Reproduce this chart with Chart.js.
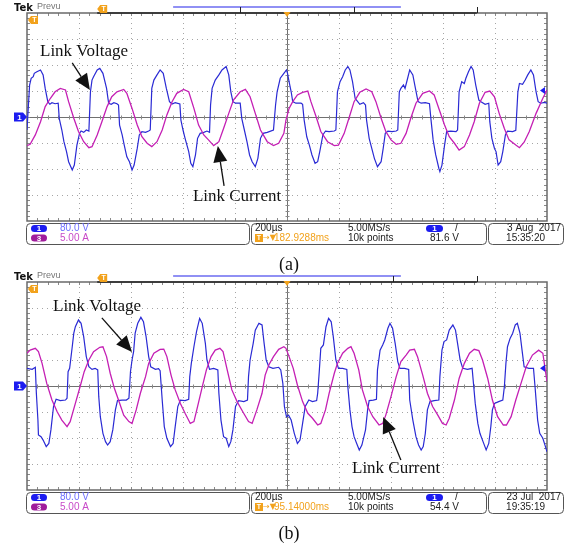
<!DOCTYPE html>
<html>
<head>
<meta charset="utf-8">
<script src="https://cdn.jsdelivr.net/npm/chart.js@4.4.1/dist/chart.umd.min.js"></script>
<style>
    html, body { margin: 0; padding: 0; background: #fff; }
    #wrap { position: relative; width: 566px; height: 546px; overflow: hidden; }
    canvas { position: absolute; left: 0; }
    #scopeA { top: 0; }
    #scopeB { top: 269px; }
</style>
</head>
<body>
<div id="wrap">
    <canvas id="scopeA" width="566" height="280"></canvas>
    <canvas id="scopeB" width="566" height="277"></canvas>
</div>
<script>
// traces, [time (div), level (div)] ; 200us/div, ch1 80 V/div, ch3 5 A/div
const voltA = [
    [0,-0.50],[0.05,1.23],[0.08,1.49],[0.12,1.55],[0.14,1.68],[0.19,1.74],[0.26,1.81],[0.31,1.62],[0.35,1.10],[0.40,0.59],
    [0.44,0.49],[0.48,0.55],[0.54,0.51],[0.60,0.53],[0.62,-0.05],[0.64,-0.24],[0.67,-0.50],[0.71,-0.95],[0.76,-1.33],[0.80,-1.72],
    [0.87,-2.04],[0.91,-1.85],[0.96,-1.08],[1.01,-0.63],[1.04,-0.54],[1.09,-0.59],[1.14,-0.50],[1.19,-0.54],[1.22,0.97],[1.25,1.42],
    [1.28,1.55],[1.35,1.81],[1.40,1.87],[1.46,1.68],[1.53,1.10],[1.57,0.53],[1.62,0.49],[1.67,0.55],[1.73,0.51],[1.76,0.46],
    [1.78,-0.31],[1.83,-0.69],[1.87,-1.08],[1.92,-1.53],[1.97,-1.72],[2.02,-2.04],[2.06,-1.85],[2.12,-1.21],[2.16,-0.69],[2.21,-0.56],
    [2.28,-0.59],[2.34,-0.54],[2.37,-0.50],[2.40,1.10],[2.44,1.42],[2.50,1.62],[2.56,1.81],[2.62,1.68],[2.68,1.10],[2.74,0.59],
    [2.79,0.50],[2.85,0.55],[2.94,0.50],[2.96,-0.12],[3.00,-0.50],[3.04,-0.82],[3.11,-1.33],[3.15,-1.78],[3.19,-1.91],[3.24,-1.46],
    [3.28,-0.82],[3.33,-0.63],[3.40,-0.59],[3.46,-0.54],[3.51,-0.59],[3.53,0.46],[3.56,1.10],[3.62,1.42],[3.69,1.62],[3.75,1.81],
    [3.83,1.94],[3.88,1.62],[3.92,0.97],[3.96,0.59],[4.01,0.53],[4.10,0.53],[4.13,-0.05],[4.18,-0.50],[4.23,-0.95],[4.28,-1.46],
    [4.33,-1.72],[4.39,-1.91],[4.44,-1.59],[4.49,-0.82],[4.54,-0.63],[4.62,-0.59],[4.74,-0.50],[4.78,0.46],[4.81,0.97],[4.87,1.49],
    [4.94,1.68],[4.99,1.81],[5.01,1.68],[5.04,1.36],[5.08,0.97],[5.11,0.59],[5.17,0.53],[5.27,0.53],[5.30,0.49],[5.33,-0.12],
    [5.38,-0.76],[5.43,-1.08],[5.48,-1.46],[5.54,-1.78],[5.59,-1.72],[5.63,-1.33],[5.69,-0.69],[5.74,-0.54],[5.81,-0.56],[5.91,-0.54],
    [5.94,-0.50],[5.97,0.97],[6.02,1.36],[6.07,1.55],[6.12,1.81],[6.17,1.94],[6.21,1.81],[6.26,1.36],[6.31,0.72],[6.36,0.59],
    [6.40,0.49],[6.47,0.55],[6.51,0.46],[6.53,-0.12],[6.58,-0.82],[6.63,-1.21],[6.68,-1.59],[6.74,-1.91],[6.81,-1.72],[6.85,-1.21],
    [6.89,-0.63],[6.94,-0.54],[7.02,-0.56],[7.10,-0.54],[7.13,-0.50],[7.16,0.97],[7.19,1.10],[7.24,1.23],[7.27,1.10],[7.32,1.49],
    [7.36,1.81],[7.42,1.62],[7.47,1.10],[7.52,0.59],[7.58,0.53],[7.66,0.55],[7.74,0.51],[7.77,-0.12],[7.81,-0.88],[7.86,-1.46],
    [7.92,-1.97],[7.94,-2.10],[7.98,-1.85],[8.03,-1.08],[8.07,-0.56],[8.15,-0.54],[8.25,-0.56],[8.28,-0.50],[8.31,0.97],[8.36,1.36],
    [8.41,1.29],[8.44,1.49],[8.49,1.74],[8.54,1.94],[8.58,1.81],[8.63,1.23],[8.69,0.65],[8.73,0.59],[8.81,0.49],[8.88,0.53],
    [8.90,-0.18],[8.94,-0.82],[8.99,-1.21],[9.02,-1.33],[9.06,-1.85],[9.11,-1.72],[9.15,-1.33],[9.20,-0.69],[9.24,-0.54],[9.34,-0.56],
    [9.40,-0.51],[9.44,0.97],[9.47,1.29],[9.53,1.26],[9.58,1.42],[9.63,1.62],[9.69,1.81],[9.74,1.62],[9.79,0.97],[9.83,0.59],
    [9.88,0.53],[9.95,0.56],[10.0,0.53]
];
const currA = [
    [0,-1.10],[0.06,-1.05],[0.16,-0.69],[0.26,-0.18],[0.35,0.40],[0.45,0.72],[0.54,0.97],[0.64,1.10],[0.74,1.04],[0.80,0.59],
    [0.90,-0.05],[0.99,-0.56],[1.09,-0.95],[1.19,-1.18],[1.25,-1.14],[1.35,-0.69],[1.44,-0.18],[1.54,0.40],[1.63,0.78],[1.73,0.97],
    [1.86,1.06],[1.92,0.91],[2.02,0.33],[2.12,-0.31],[2.21,-0.76],[2.31,-1.01],[2.40,-1.14],[2.50,-0.95],[2.60,-0.50],[2.69,0.08],
    [2.79,0.59],[2.88,0.91],[3.01,1.06],[3.11,0.97],[3.21,0.33],[3.30,-0.31],[3.40,-0.69],[3.49,-0.88],[3.59,-1.10],[3.69,-0.95],
    [3.78,-0.44],[3.88,0.14],[3.97,0.65],[4.10,0.97],[4.20,1.06],[4.29,0.78],[4.39,0.14],[4.49,-0.50],[4.62,-0.95],[4.74,-1.10],
    [4.84,-1.01],[4.94,-0.63],[4.98,-0.12],[5.04,0.33],[5.11,0.59],[5.20,0.85],[5.30,0.95],[5.40,1.00],[5.46,0.59],[5.56,0.01],
    [5.65,-0.56],[5.78,-0.95],[5.91,-1.10],[5.99,-1.08],[6.10,-0.63],[6.20,0.01],[6.29,0.59],[6.40,0.95],[6.52,1.08],[6.63,0.97],
    [6.71,0.59],[6.81,-0.05],[6.90,-0.56],[7.00,-0.88],[7.10,-1.05],[7.19,-1.01],[7.29,-0.63],[7.38,-0.05],[7.48,0.53],[7.61,0.91],
    [7.74,1.00],[7.83,0.85],[7.93,0.27],[8.03,-0.31],[8.12,-0.76],[8.22,-1.01],[8.31,-1.27],[8.41,-1.14],[8.51,-0.69],[8.60,-0.18],
    [8.70,0.53],[8.81,0.95],[8.90,1.00],[8.99,0.78],[9.08,0.14],[9.18,-0.44],[9.27,-0.88],[9.40,-1.08],[9.47,-1.18],[9.56,-0.97],
    [9.66,-0.56],[9.79,0.14],[9.92,0.72],[10.0,1.04]
];
const voltB = [
    [0,0.68],[0.10,0.64],[0.16,0.72],[0.18,-0.28],[0.21,-1.31],[0.22,-1.88],[0.27,-1.95],[0.31,-2.08],[0.37,-2.33],[0.42,-2.21],
    [0.46,-1.69],[0.51,-0.79],[0.56,-0.51],[0.64,-0.56],[0.74,-0.54],[0.77,-0.47],[0.79,0.55],[0.82,0.68],[0.87,1.51],[0.90,2.03],
    [0.93,2.28],[0.99,2.54],[1.04,2.41],[1.09,1.90],[1.14,1.13],[1.19,0.74],[1.25,0.64],[1.31,0.68],[1.36,0.62],[1.38,-0.41],
    [1.41,-1.18],[1.46,-1.82],[1.51,-2.14],[1.55,-2.27],[1.60,-2.14],[1.65,-1.69],[1.70,-0.92],[1.74,-0.56],[1.83,-0.54],[1.91,-0.54],
    [1.96,-0.47],[1.99,0.55],[2.02,1.00],[2.05,1.32],[2.08,2.03],[2.13,2.41],[2.19,2.64],[2.24,2.47],[2.29,1.90],[2.34,1.13],
    [2.38,0.74],[2.47,0.64],[2.53,0.67],[2.56,0.59],[2.60,-0.54],[2.64,-1.56],[2.69,-2.01],[2.76,-2.33],[2.81,-2.21],[2.85,-1.56],
    [2.90,-0.79],[2.95,-0.54],[3.04,-0.56],[3.11,-0.51],[3.13,0.36],[3.16,0.87],[3.21,1.51],[3.26,2.09],[3.32,2.60],[3.37,2.41],
    [3.43,1.64],[3.46,1.00],[3.51,0.64],[3.59,0.68],[3.67,0.62],[3.69,-0.28],[3.73,-1.31],[3.78,-1.95],[3.83,-2.01],[3.88,-2.33],
    [3.92,-2.14],[3.96,-1.69],[4.01,-0.79],[4.07,-0.56],[4.17,-0.60],[4.24,-0.54],[4.26,0.36],[4.29,1.00],[4.35,1.64],[4.39,2.15],
    [4.46,2.41],[4.52,2.35],[4.56,1.64],[4.60,1.00],[4.65,0.74],[4.73,0.68],[4.84,0.72],[4.88,0.62],[4.92,0.10],[4.95,-0.79],
    [4.99,-1.18],[5.03,-1.12],[5.08,-1.31],[5.14,-1.82],[5.20,-2.21],[5.25,-2.08],[5.30,-1.44],[5.35,-0.79],[5.42,-0.54],[5.49,-0.60],
    [5.57,-0.56],[5.59,-0.28],[5.62,0.55],[5.65,1.45],[5.70,1.58],[5.75,2.28],[5.80,2.60],[5.85,2.47],[5.89,1.90],[5.94,1.00],
    [5.99,0.68],[6.07,0.68],[6.15,0.64],[6.17,-0.03],[6.21,-0.92],[6.25,-1.56],[6.29,-1.95],[6.34,-2.21],[6.39,-2.46],[6.44,-2.27],
    [6.51,-1.69],[6.55,-0.92],[6.58,-0.56],[6.66,-0.54],[6.72,-0.51],[6.74,0.62],[6.79,1.38],[6.84,1.58],[6.88,1.77],[6.94,2.22],
    [6.98,2.41],[7.03,2.22],[7.08,1.64],[7.13,0.94],[7.17,0.68],[7.26,0.68],[7.34,0.64],[7.36,-0.54],[7.42,-1.31],[7.48,-1.95],
    [7.53,-2.27],[7.58,-2.46],[7.62,-2.33],[7.66,-1.82],[7.70,-0.92],[7.75,-0.60],[7.83,-0.56],[7.92,-0.54],[7.94,0.36],[7.98,1.38],
    [8.02,1.71],[8.07,1.77],[8.12,2.15],[8.19,2.35],[8.24,2.15],[8.28,1.64],[8.33,1.00],[8.38,0.68],[8.47,0.64],[8.56,0.68],
    [8.58,0.23],[8.62,-0.67],[8.67,-1.44],[8.71,-1.82],[8.77,-2.14],[8.83,-2.46],[8.88,-2.21],[8.92,-1.56],[8.95,-0.92],[8.99,-0.67],
    [9.07,-0.60],[9.15,-0.54],[9.18,-0.03],[9.21,0.87],[9.24,1.51],[9.29,1.83],[9.34,2.03],[9.39,2.35],[9.43,2.41],[9.48,2.03],
    [9.52,1.38],[9.56,0.74],[9.65,0.68],[9.74,0.68],[9.77,-0.03],[9.82,-1.31],[9.86,-1.82],[9.92,-2.01],[9.97,-2.33],[10.0,-2.53]
];
const currB = [
    [0,1.26],[0.06,1.38],[0.16,1.45],[0.22,1.32],[0.29,0.87],[0.38,0.10],[0.48,-0.54],[0.58,-0.99],[0.67,-1.31],[0.77,-1.56],
    [0.83,-1.37],[0.93,-0.67],[1.03,0.04],[1.10,0.55],[1.19,1.00],[1.28,1.32],[1.40,1.49],[1.46,1.51],[1.53,1.13],[1.60,0.49],
    [1.68,-0.09],[1.76,-0.54],[1.86,-1.12],[1.96,-1.37],[2.02,-1.44],[2.10,-0.92],[2.18,-0.28],[2.28,0.36],[2.34,0.87],[2.44,1.26],
    [2.56,1.41],[2.63,1.42],[2.69,1.13],[2.77,0.42],[2.85,-0.15],[2.95,-0.67],[3.04,-1.05],[3.14,-1.44],[3.21,-1.37],[3.28,-0.79],
    [3.37,-0.03],[3.45,0.62],[3.54,1.13],[3.62,1.38],[3.71,1.45],[3.77,1.32],[3.85,0.62],[3.94,-0.15],[4.04,-0.60],[4.15,-0.99],
    [4.26,-1.37],[4.33,-1.44],[4.42,-0.92],[4.52,-0.28],[4.58,0.42],[4.65,0.81],[4.74,1.13],[4.84,1.41],[4.94,1.51],[4.98,1.45],
    [5.04,1.13],[5.12,0.68],[5.20,0.04],[5.30,-0.60],[5.40,-1.05],[5.49,-1.24],[5.59,-1.50],[5.65,-1.44],[5.74,-0.92],[5.81,-0.28],
    [5.91,0.49],[5.97,0.87],[6.07,1.26],[6.17,1.45],[6.23,1.51],[6.29,1.26],[6.38,0.62],[6.45,-0.15],[6.55,-0.79],[6.65,-1.18],
    [6.77,-1.50],[6.84,-1.44],[6.90,-1.12],[7.00,-0.41],[7.10,0.36],[7.19,0.94],[7.29,1.19],[7.36,1.38],[7.45,1.41],[7.51,1.13],
    [7.61,0.42],[7.70,-0.28],[7.80,-0.79],[7.90,-1.12],[7.99,-1.44],[8.06,-1.50],[8.12,-1.24],[8.22,-0.54],[8.31,0.29],[8.41,0.87],
    [8.51,1.26],[8.60,1.41],[8.69,1.36],[8.76,1.00],[8.86,0.29],[8.95,-0.54],[9.05,-1.18],[9.16,-1.50],[9.22,-1.50],[9.31,-1.18],
    [9.40,-0.54],[9.50,0.10],[9.60,0.74],[9.72,1.19],[9.84,1.38],[9.92,1.26],[10.0,0.17]
];

// on-screen readouts: ch1 scale, ch3 scale, time/div, trigger pos, sample rate, record, trig level, date, time
const readoutA = ["80.0 V", "5.00 A", "200µs", "182.9288ms", "5.00MS/s", "10k points", "81.6 V", "3 Aug  2017", "15:35:20"];
const readoutB = ["80.0 V", "5.00 A", "200µs", "95.14000ms", "5.00MS/s", "10k points", "54.4 V", "23 Jul  2017", "19:35:19"];
const trigLevelV = [81.6, 54.4];
const voltsPerDiv = 80;
const panelNames = ["(a)", "(b)"];
const noteNames = ["Link Voltage", "Link Current"];

const BLUE = "#2a2ad4";
const MAGENTA = "#c41fb4";
const ORANGE = "#f2a21c";

function line(ctx, x1, y1, x2, y2) {
    ctx.beginPath();
    ctx.moveTo(x1, y1);
    ctx.lineTo(x2, y2);
    ctx.stroke();
}

function roundBox(ctx, x, y, w, h, r) {
    ctx.beginPath();
    ctx.moveTo(x + r, y);
    ctx.arcTo(x + w, y, x + w, y + h, r);
    ctx.arcTo(x + w, y + h, x, y + h, r);
    ctx.arcTo(x, y + h, x, y, r);
    ctx.arcTo(x, y, x + w, y, r);
    ctx.closePath();
    ctx.stroke();
}

function pill(ctx, x, y, w, h, fill, label) {
    const r = h / 2;
    ctx.fillStyle = fill;
    ctx.beginPath();
    ctx.arc(x + r, y, r, Math.PI / 2, Math.PI * 1.5);
    ctx.arc(x + w - r, y, r, -Math.PI / 2, Math.PI / 2);
    ctx.closePath();
    ctx.fill();
    ctx.fillStyle = "#fff";
    ctx.font = "bold 8px 'Liberation Sans'";
    ctx.textAlign = "center";
    ctx.fillText(label, x + w / 2, y + 0.5);
}

function tMarker(ctx, x, y) {
    ctx.fillStyle = ORANGE;
    ctx.beginPath();
    ctx.moveTo(x, y);
    ctx.lineTo(x + 3, y - 4);
    ctx.lineTo(x + 10, y - 4);
    ctx.lineTo(x + 10, y + 4);
    ctx.lineTo(x + 3, y + 4);
    ctx.closePath();
    ctx.fill();
    ctx.fillStyle = "#fff";
    ctx.font = "bold 7px 'Liberation Sans'";
    ctx.textAlign = "center";
    ctx.fillText("T", x + 6.5, y + 0.5);
}

function arrow(ctx, x1, y1, x2, y2) {
    const ang = Math.atan2(y2 - y1, x2 - x1);
    const L = 16, W = 7;
    const bx = x2 - L * Math.cos(ang), by = y2 - L * Math.sin(ang);
    ctx.strokeStyle = "#111";
    ctx.lineWidth = 1.3;
    line(ctx, x1, y1, bx, by);
    ctx.fillStyle = "#111";
    ctx.beginPath();
    ctx.moveTo(x2, y2);
    ctx.lineTo(bx + W * Math.sin(ang), by - W * Math.cos(ang));
    ctx.lineTo(bx - W * Math.sin(ang), by + W * Math.cos(ang));
    ctx.closePath();
    ctx.fill();
}

function drawGraticule(chart) {
    const { ctx, chartArea: a, scales: { x, y } } = chart;
    ctx.save();
    ctx.lineWidth = 1;
    ctx.strokeStyle = "#a5a5a5";
    ctx.setLineDash([1, 4]);
    for (let i = 1; i < 10; i++) {
        if (i === 5) continue;
        const px = Math.round(x.getPixelForValue(i)) + 0.5;
        line(ctx, px, a.top, px, a.bottom);
    }
    for (let j = -3; j <= 3; j++) {
        if (j === 0) continue;
        const py = Math.round(y.getPixelForValue(j)) + 0.5;
        line(ctx, a.left, py, a.right, py);
    }
    ctx.setLineDash([]);

    const cx = Math.round(x.getPixelForValue(5)) + 0.5;
    const cy = Math.round(y.getPixelForValue(0)) + 0.5;
    ctx.strokeStyle = "#707070";
    line(ctx, a.left, cy, a.right, cy);
    line(ctx, cx, a.top, cx, a.bottom);

    ctx.strokeStyle = "#8a8a8a";
    for (let k = 1; k < 50; k++) {
        const px = Math.round(x.getPixelForValue(k / 5)) + 0.5;
        line(ctx, px, cy - 2, px, cy + 2);
        line(ctx, px, a.top, px, a.top + 3);
        line(ctx, px, a.bottom - 3, px, a.bottom);
    }
    for (let k = -19; k < 20; k++) {
        const py = Math.round(y.getPixelForValue(k / 5)) + 0.5;
        line(ctx, cx - 2, py, cx + 2, py);
        line(ctx, a.left, py, a.left + 3, py);
        line(ctx, a.right - 3, py, a.right, py);
    }

    ctx.strokeStyle = "#6a6a6a";
    ctx.lineWidth = 1.5;
    ctx.strokeRect(a.left, a.top, a.right - a.left, a.bottom - a.top);
    ctx.restore();
}

function drawScreenExtras(chart, opts) {
    const { ctx, chartArea: a, scales: { x, y } } = chart;
    const r = opts.readout;
    ctx.save();
    ctx.textBaseline = "middle";

    // header
    ctx.fillStyle = "#111";
    ctx.font = "bold 10px 'DejaVu Sans'";
    ctx.textAlign = "left";
    ctx.fillText("Tek", 14, 8);
    ctx.fillStyle = "#777";
    ctx.font = "9px 'Liberation Sans'";
    ctx.fillText("Prevu", 37, 7);

    const recL = x.getPixelForValue(1.35), recR = x.getPixelForValue(8.65);
    ctx.strokeStyle = "#6b6bf0";
    ctx.lineWidth = 1.5;
    line(ctx, x.getPixelForValue(2.81), a.top - 6, x.getPixelForValue(7.19), a.top - 6);
    ctx.strokeStyle = "#222";
    ctx.lineWidth = 1.5;
    line(ctx, recL, a.top, recR, a.top);
    ctx.lineWidth = 1;
    opts.recTicks.forEach(t => {
        const px = Math.round(x.getPixelForValue(t)) + 0.5;
        line(ctx, px, a.top - 6, px, a.top);
    });
    tMarker(ctx, recL, a.top - 4);
    tMarker(ctx, a.left + 1, a.top + 7);

    // trigger position marker
    const cx = x.getPixelForValue(5);
    ctx.fillStyle = ORANGE;
    ctx.beginPath();
    ctx.moveTo(cx - 3.5, a.top - 1);
    ctx.lineTo(cx + 3.5, a.top - 1);
    ctx.lineTo(cx, a.top + 4);
    ctx.closePath();
    ctx.fill();

    // channel 1 ground marker
    const gy = y.getPixelForValue(0);
    ctx.fillStyle = "#1c1cf0";
    ctx.beginPath();
    ctx.moveTo(14, gy - 4.5);
    ctx.lineTo(23, gy - 4.5);
    ctx.lineTo(27, gy);
    ctx.lineTo(23, gy + 4.5);
    ctx.lineTo(14, gy + 4.5);
    ctx.closePath();
    ctx.fill();
    ctx.fillStyle = "#fff";
    ctx.font = "bold 8px 'Liberation Sans'";
    ctx.textAlign = "center";
    ctx.fillText("1", 19.5, gy + 0.5);

    // trigger level marker
    const ty = y.getPixelForValue(opts.trigLevel / voltsPerDiv);
    ctx.fillStyle = "#1c1cf0";
    ctx.beginPath();
    ctx.moveTo(a.right - 7, ty);
    ctx.lineTo(a.right - 2, ty - 3.5);
    ctx.lineTo(a.right - 2, ty + 3.5);
    ctx.closePath();
    ctx.fill();

    // annotations
    ctx.fillStyle = "#111";
    ctx.font = "17px 'Liberation Serif'";
    ctx.textAlign = "left";
    opts.notes.forEach(n => {
        ctx.fillText(n.text, x.getPixelForValue(n.at[0]), y.getPixelForValue(n.at[1]));
        arrow(ctx, x.getPixelForValue(n.from[0]), y.getPixelForValue(n.from[1]),
            x.getPixelForValue(n.to[0]), y.getPixelForValue(n.to[1]));
    });

    // readout bar
    const top = a.bottom + 2;
    const row1 = top + 5.5, row2 = top + 15;
    ctx.strokeStyle = "#555";
    ctx.lineWidth = 1;
    [[26, 249], [251, 486], [488, 563]].forEach(([l, rr]) => roundBox(ctx, l + 0.5, top + 0.5, rr - l, 21, 4));

    pill(ctx, 31, row1, 16, 7, "#1c1cf0", "1");
    pill(ctx, 31, row2, 16, 7, "#a01c9c", "3");
    ctx.textAlign = "left";
    ctx.font = "10px 'Liberation Sans'";
    ctx.fillStyle = "#6e6eff";
    ctx.fillText(r[0], 60, row1);
    ctx.fillStyle = "#c84ac8";
    ctx.fillText(r[1], 60, row2);

    ctx.fillStyle = "#222";
    ctx.fillText(r[2], 255, row1);
    ctx.fillStyle = ORANGE;
    ctx.fillRect(255, row2 - 4, 8, 8);
    ctx.fillStyle = "#fff";
    ctx.font = "bold 7px 'Liberation Sans'";
    ctx.textAlign = "center";
    ctx.fillText("T", 259, row2 + 0.5);
    ctx.textAlign = "left";
    ctx.fillStyle = ORANGE;
    ctx.font = "8px 'DejaVu Sans'";
    ctx.fillText("→▼", 263, row2);
    ctx.font = "10px 'Liberation Sans'";
    ctx.fillText(r[3], 274, row2);

    ctx.fillStyle = "#222";
    ctx.fillText(r[4], 348, row1);
    ctx.fillText(r[5], 348, row2);
    pill(ctx, 426, row1, 17, 7, "#1c1cf0", "1");
    ctx.textAlign = "left";
    ctx.font = "10px 'Liberation Sans'";
    ctx.fillStyle = "#222";
    ctx.fillText("/", 455, row1);
    ctx.fillText(r[6], 430, row2);

    ctx.textAlign = "right";
    ctx.fillText(r[7], 561, row1);
    ctx.fillText(r[8], 545, row2);

    // panel caption
    ctx.textAlign = "center";
    ctx.font = "18px 'Liberation Serif'";
    ctx.fillStyle = "#111";
    ctx.fillText(opts.caption, 289, 265);
    ctx.restore();
}

const scopePlugin = {
    id: "scope",
    beforeDatasetsDraw(chart) {
        drawGraticule(chart);
    },
    afterDatasetsDraw(chart, args, opts) {
        drawScreenExtras(chart, opts);
    },
};

function makeScope(canvasId, volt, curr, extras) {
    const canvas = document.getElementById(canvasId);
    return new Chart(canvas, {
        type: "line",
        data: {
            datasets: [
                {
                    label: noteNames[1],
                    data: curr.map(([t, v]) => ({ x: t, y: v })),
                    borderColor: MAGENTA,
                    borderWidth: 1.3,
                    pointRadius: 0,
                    tension: 0,
                    order: 0,
                },
                {
                    label: noteNames[0],
                    data: volt.map(([t, v]) => ({ x: t, y: v })),
                    borderColor: BLUE,
                    borderWidth: 1.2,
                    pointRadius: 0,
                    tension: 0,
                    order: 1,
                },
            ],
        },
        options: {
            responsive: false,
            animation: false,
            events: [],
            layout: {
                padding: { left: 27, right: 19, top: 13, bottom: canvas.height - 221 },
            },
            plugins: {
                legend: { display: false },
                tooltip: { enabled: false },
                scope: extras,
            },
            scales: {
                x: { type: "linear", min: 0, max: 10, display: false },
                y: { type: "linear", min: -4, max: 4, display: false },
            },
        },
        plugins: [scopePlugin],
    });
}

makeScope("scopeA", voltA, currA, {
    readout: readoutA,
    trigLevel: trigLevelV[0],
    caption: panelNames[0],
    recTicks: [4.10, 6.29, 8.65],
    notes: [
        { text: noteNames[0], at: [0.25, 2.5], from: [0.87, 2.08], to: [1.21, 1.04] },
        { text: noteNames[1], at: [3.19, -3.04], from: [3.79, -2.65], to: [3.67, -1.12] },
    ],
});

makeScope("scopeB", voltB, currB, {
    readout: readoutB,
    trigLevel: trigLevelV[1],
    caption: panelNames[1],
    recTicks: [7.04, 8.65],
    notes: [
        { text: noteNames[0], at: [0.5, 3.04], from: [1.44, 2.62], to: [2.02, 1.31] },
        { text: noteNames[1], at: [6.25, -3.19], from: [7.19, -2.85], to: [6.85, -1.19] },
    ],
});
</script>
</body>
</html>
